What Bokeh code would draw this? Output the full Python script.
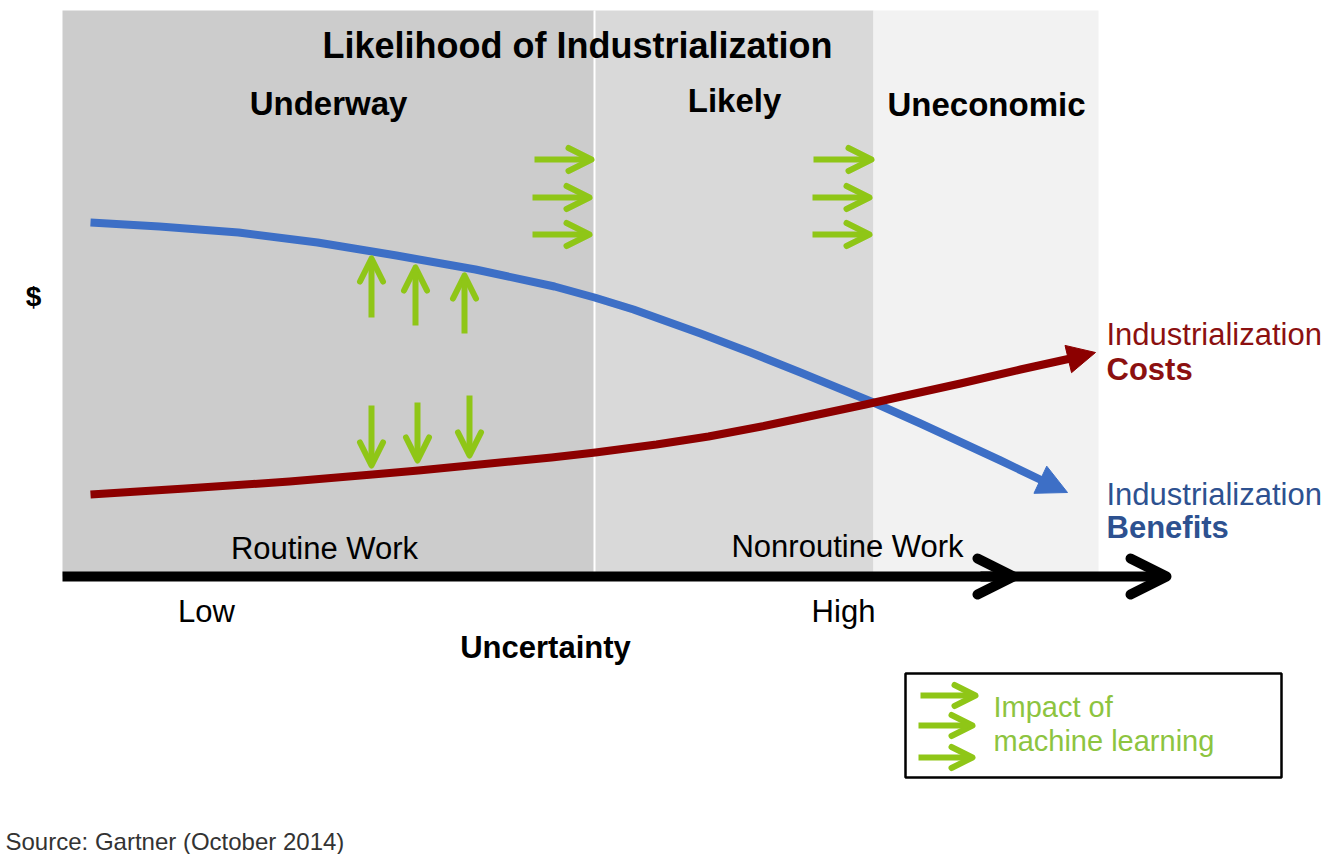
from bokeh.plotting import figure
from bokeh.models import Range1d, Arrow, OpenHead, NormalHead, ColumnDataSource
from bokeh.core.properties import value
from bokeh.embed import file_html
from bokeh.resources import INLINE

# --- Trend curves: uncertainty (x) against dollars (y); last point is the arrow tip ---
benefit_x = [90, 159, 238, 317, 396, 475, 554, 594, 633, 700, 750, 800, 873, 920, 1000, 1050, 1067]
benefit_y = [632, 628, 622, 612, 599, 585, 568, 557, 545, 521, 502, 482, 452, 431, 394, 370, 362]

cost_x = [90, 185, 289, 372, 418, 469, 551, 595, 656, 708, 761, 813, 865, 901, 960, 1020, 1070, 1095]
cost_y = [360, 366, 373, 380, 384, 389, 397, 402, 410, 418, 428, 439, 450, 458, 471, 485, 496, 502]

# --- Likelihood-of-industrialization zones along the uncertainty axis ---
zone_names = ["Underway", "Likely", "Uneconomic"]
zone_edges = [62, 594, 873, 1098]

# --- Machine-learning impact markers: (x0, y0) -> (x1, y1) ---
push_right_x0 = [534, 532, 532, 813, 812, 812]
push_right_x1 = [591, 589, 589, 871, 869, 869]
push_right_y = [695, 657, 620, 695, 657, 620]

lift_x = [371, 415, 464]
lift_y0 = [537, 529, 521]
lift_y1 = [596, 587, 579]

drop_x = [371, 417, 469]
drop_y0 = [449, 452, 459]
drop_y1 = [389, 394, 399]

work_labels = ["Routine Work", "Nonroutine Work"]
uncertainty_labels = ["Low", "High"]

FONT = value("Liberation Sans")
BLUE = "#3d6fc6"
RED = "#8c0000"
GREEN = "#8fc617"
GREEN_TEXT = "#8dc43f"
AXIS_Y = 278
TOP = 844

p = figure(width=1338, height=854, x_range=Range1d(0, 1338), y_range=Range1d(0, 854),
           output_backend="svg", toolbar_location=None, min_border=0,
           x_axis_location=None, y_axis_location=None)
p.grid.visible = False
p.outline_line_color = None
p.background_fill_color = "white"
p.border_fill_color = "white"

# zone backgrounds
p.quad(left=zone_edges[:-1], right=zone_edges[1:], bottom=AXIS_Y, top=TOP,
       fill_color=["#cccccc", "#d9d9d9", "#f2f2f2"], line_color=None)
p.segment(x0=[zone_edges[1]], y0=[AXIS_Y], x1=[zone_edges[1]], y1=[TOP],
          line_color="white", line_width=2)

# header texts
p.text(x=[577], y=[809], text=["Likelihood of Industrialization"], text_font=FONT,
       text_font_size="36px", text_font_style="bold", text_align="center",
       text_baseline="middle", text_color="black")
p.text(x=[328, 734, 986], y=[751, 754, 750], text=zone_names, text_font=FONT,
       text_font_size="33px", text_font_style="bold", text_align="center",
       text_baseline="middle", text_color="black")

# trend curves with arrow heads
p.line(benefit_x[:-1], benefit_y[:-1], line_color=BLUE, line_width=8, line_join="round")
p.add_layout(Arrow(end=NormalHead(size=30, fill_color=BLUE, line_color=BLUE),
                   x_start=benefit_x[-2], y_start=benefit_y[-2],
                   x_end=benefit_x[-1], y_end=benefit_y[-1],
                   line_color=BLUE, line_width=8))
p.line(cost_x[:-1], cost_y[:-1], line_color=RED, line_width=8, line_join="round")
p.add_layout(Arrow(end=NormalHead(size=28, fill_color=RED, line_color=RED),
                   x_start=cost_x[-2], y_start=cost_y[-2],
                   x_end=cost_x[-1], y_end=cost_y[-1],
                   line_color=RED, line_width=8))


def green_arrows(x0, y0, x1, y1, size=23):
    src = ColumnDataSource(dict(x0=x0, y0=y0, x1=x1, y1=y1))
    p.add_layout(Arrow(end=OpenHead(size=size, line_color=GREEN, line_width=6,
                                    line_cap="round", line_join="round"),
                       source=src, x_start="x0", y_start="y0", x_end="x1", y_end="y1",
                       line_color=GREEN, line_width=6))


green_arrows(push_right_x0, push_right_y, push_right_x1, push_right_y)
green_arrows(lift_x, lift_y0, lift_x, lift_y1)
green_arrows(drop_x, drop_y0, drop_x, drop_y1)

# uncertainty axis with double chevron
p.add_layout(Arrow(end=OpenHead(size=36, line_color="black", line_width=10,
                                line_cap="round", line_join="round"),
                   x_start=62, y_start=AXIS_Y, x_end=1166, y_end=AXIS_Y,
                   line_color="black", line_width=10))
p.add_layout(Arrow(end=OpenHead(size=36, line_color="black", line_width=10,
                                line_cap="round", line_join="round"),
                   x_start=980, y_start=AXIS_Y, x_end=1013, y_end=AXIS_Y,
                   line_color="black", line_width=10))

p.text(x=[33], y=[558], text=["$"], text_font=FONT, text_font_size="28px",
       text_font_style="bold", text_align="center", text_baseline="middle", text_color="black")
p.text(x=[324, 847], y=[306, 308], text=work_labels, text_font=FONT, text_font_size="31px",
       text_align="center", text_baseline="middle", text_color="black")
p.text(x=[206, 843], y=[243, 243], text=uncertainty_labels, text_font=FONT,
       text_font_size="31px", text_align="center", text_baseline="middle", text_color="black")
p.text(x=[545], y=[207], text=["Uncertainty"], text_font=FONT, text_font_size="31px",
       text_font_style="bold", text_align="center", text_baseline="middle", text_color="black")

# curve labels
p.text(x=[1106], y=[520], text=["Industrialization"], text_font=FONT, text_font_size="31px",
       text_align="left", text_baseline="middle", text_color="#8b1010")
p.text(x=[1106], y=[485], text=["Costs"], text_font=FONT, text_font_size="31px",
       text_font_style="bold", text_align="left", text_baseline="middle", text_color="#8b1010")
p.text(x=[1106], y=[360], text=["Industrialization"], text_font=FONT, text_font_size="31px",
       text_align="left", text_baseline="middle", text_color="#2d5190")
p.text(x=[1106], y=[327], text=["Benefits"], text_font=FONT, text_font_size="31px",
       text_font_style="bold", text_align="left", text_baseline="middle", text_color="#2d5190")

# key box
p.quad(left=[905], right=[1281], bottom=[77], top=[181], fill_color="white",
       line_color="black", line_width=2.5)
green_arrows([920, 918, 918], [159, 129, 97], [975, 972, 972], [159, 129, 97], size=21)
p.text(x=[993, 993], y=[148, 114], text=["Impact of", "machine learning"], text_font=FONT,
       text_font_size="29px", text_align="left", text_baseline="middle", text_color=GREEN_TEXT)

p.text(x=[5], y=[13], text=["Source: Gartner (October 2014)"], text_font=FONT,
       text_font_size="24px", text_align="left", text_baseline="middle", text_color="#333333")

open("out.html", "w").write(file_html(p, INLINE))
